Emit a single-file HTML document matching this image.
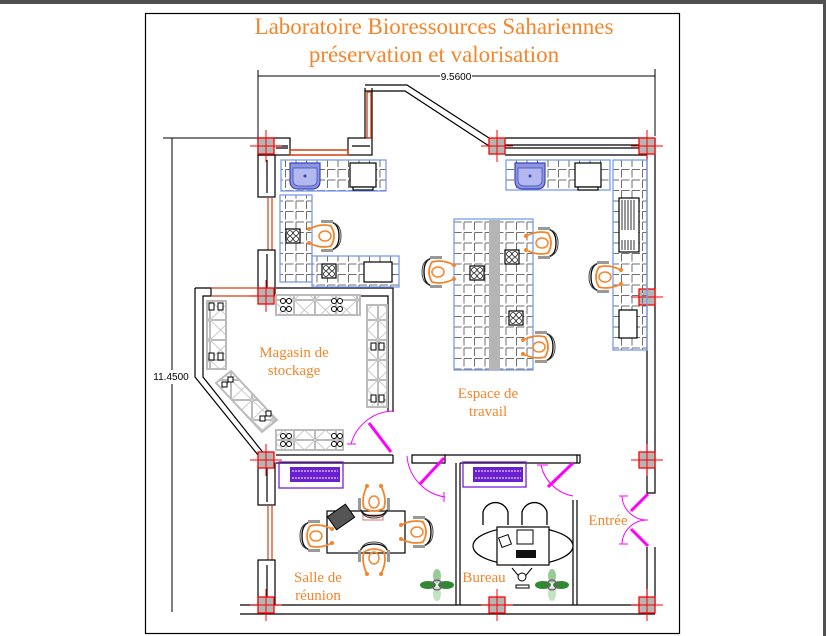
<!DOCTYPE html>
<html><head><meta charset="utf-8"><style>
html,body{margin:0;padding:0;background:#fff}
svg{display:block}
text{font-family:"Liberation Serif",serif;fill:#f5852a}
</style></head><body>
<svg width="826" height="636" viewBox="0 0 826 636" xmlns="http://www.w3.org/2000/svg">
<defs>
<pattern id="g" x="0" y="0" width="10.5" height="10.5" patternUnits="userSpaceOnUse">
<path d="M2 1.5 H10 M2 1.5 V9.5" stroke="#6f6f6f" stroke-width="1" fill="none"/>
</pattern>
<pattern id="sx" width="21" height="20" patternUnits="userSpaceOnUse">
<rect width="21" height="20" fill="#fff" stroke="#bbb" stroke-width="2"/>
<path d="M0 0L21 20M21 0L0 20" stroke="#ccc" stroke-width="1"/>
</pattern>
<g id="col">
<rect x="-8" y="-8" width="16" height="16" fill="#b5b5b5" stroke="#f00" stroke-width="1.3"/>
<path d="M0 -16V16M-16 0H16" stroke="#f00" stroke-width="1"/>
</g>
<g id="burn">
<rect x="-7" y="-7" width="14" height="14" fill="#fff" stroke="#000" stroke-width="1.2"/>
<circle cx="-3" cy="-3" r="2.4" fill="none" stroke="#000" stroke-width=".8"/>
<circle cx="3" cy="-3" r="2.4" fill="none" stroke="#000" stroke-width=".8"/>
<circle cx="-3" cy="3" r="2.4" fill="none" stroke="#000" stroke-width=".8"/>
<circle cx="3" cy="3" r="2.4" fill="none" stroke="#000" stroke-width=".8"/>
</g>
<g id="ch">
<path d="M8 -14 Q16 -12 16 0 Q16 12 8 14" fill="none" stroke="#000" stroke-width="1.3"/>
<path d="M11 -13 Q18 -10 18 0 Q18 10 11 13" fill="none" stroke="#444" stroke-width="1"/>
<rect x="-2" y="-16" width="12" height="3" fill="#999"/>
<rect x="-2" y="13" width="12" height="3" fill="#999"/>
<path d="M-14 -7 Q-2 -13 8 -10 Q14 0 8 10 Q-2 13 -14 7" fill="none" stroke="#f5852a" stroke-width="1.8"/>
<ellipse cx="2" cy="0" rx="6" ry="5" fill="none" stroke="#f5852a" stroke-width="1.5"/>
<circle cx="-14" cy="-7" r="2" fill="#f5852a"/><circle cx="-14" cy="7" r="2" fill="#f5852a"/>
</g>
<g id="sink">
<path d="M0 0H30V18Q30 26 22 26H8Q0 26 0 18Z" fill="#8d95e0" stroke="#3a46b8" stroke-width="1.2"/>
<path d="M3 5H27V17Q27 23 20 23H10Q3 23 3 17Z" fill="#b3b9ef" stroke="#3a46b8" stroke-width=".7"/>
<circle cx="15" cy="13" r="1.5" fill="#3a46b8"/>
</g>
<g id="plant">
<ellipse cx="-9" cy="0" rx="8" ry="4" fill="#2f8a2f"/>
<ellipse cx="9" cy="0" rx="8" ry="4" fill="#2f8a2f"/>
<ellipse cx="0" cy="-9" rx="4" ry="7" fill="#6ab86a" opacity=".7"/>
<ellipse cx="0" cy="9" rx="4" ry="7" fill="#9ad09a" opacity=".6"/>
<circle cx="0" cy="0" r="5" fill="none" stroke="#805080" stroke-width="1.3"/>
</g>
</defs>

<rect x="0" y="0" width="826" height="4" fill="#505050"/>
<rect x="823" y="0" width="3" height="636" fill="#505050"/>
<rect x="145.5" y="13.5" width="534" height="620" fill="none" stroke="#000" stroke-width="1.2"/>

<text x="434" y="34" font-size="23" text-anchor="middle">Laboratoire Bioressources Sahariennes</text>
<text x="434" y="62" font-size="23" text-anchor="middle">préservation et valorisation</text>

<g stroke="#000" stroke-width="1" fill="none">
<path d="M258 70V138M655 69V136M258 76H440M472 76H655"/>
<path d="M163 138H258M172 138V370M172 384V612"/>
</g>
<text x="456" y="80" font-size="10" text-anchor="middle" style="font-family:'Liberation Sans',sans-serif;fill:#000">9.5600</text>
<text x="171" y="380" font-size="10" text-anchor="middle" style="font-family:'Liberation Sans',sans-serif;fill:#000">11.4500</text>

<g stroke="#000" stroke-width="1.2" fill="none">
<rect x="258" y="138" width="32" height="17"/>
<path d="M276 146H288M276 148H288"/>
<rect x="348" y="138" width="24" height="17"/>
<path d="M352 146H370"/>
<path d="M365 138V108M372 138V88M365 108V88M365 85H407L489 138M365 91H405L489 146"/>
<path d="M505 138H647M505 155H647M505 145H640M505 148H640"/>
<rect x="258" y="155" width="17" height="42"/><path d="M267 160V193"/>
<path d="M268 197V250M272 197V250" stroke="#d04010"/>
<rect x="258" y="250" width="17" height="45"/><path d="M267 254V292"/>
<rect x="258" y="463" width="17" height="42"/><path d="M267 466V502"/>
<path d="M268 505V560M272 505V560" stroke="#d04010"/>
<rect x="258" y="560" width="17" height="45"/><path d="M267 565V600"/>
<path d="M195 288H211V296H203V377L265 455M195 288V377L258 455"/>
<path d="M211 288H258M211 296H258" stroke="#d04010"/>
<path d="M276 288H393V412M276 296H388V412"/>
<path d="M276 455H393M276 463H393V455"/>
<path d="M412 455H445V463H412Z"/>
<path d="M445 455H580V463M460 463H580M577 463V455H580V463"/>
<path d="M456 463V605M460 463V605"/>
<path d="M573 500V605M577 500V605"/>
<path d="M647 155V493H655V138M647 547V605H655V547M655 493V290"/>
<path d="M240 605H655M240 614H655"/>
</g>
<rect x="290" y="150" width="58" height="5" fill="none" stroke="#d04010" stroke-width="1.5"/>
<rect x="367" y="92" width="4" height="46" fill="none" stroke="#d04010" stroke-width="1.3"/>

<use href="#col" x="266" y="146"/><use href="#col" x="497" y="146"/><use href="#col" x="647" y="146"/>
<use href="#col" x="266" y="296"/><use href="#col" x="647" y="297"/>
<use href="#col" x="266" y="460"/><use href="#col" x="647" y="460"/>
<use href="#col" x="266" y="605"/><use href="#col" x="497" y="605"/><use href="#col" x="647" y="605"/>

<g stroke="#7a9cf0" stroke-width="1.3" fill="url(#g)">
<rect x="281" y="160" width="105" height="31"/>
<rect x="280" y="195" width="32" height="87"/>
<rect x="312" y="256" width="87" height="31"/>
<rect x="454" y="219" width="79" height="151"/>
<rect x="506" y="160" width="104" height="30"/>
<rect x="613" y="160" width="34" height="190"/>
</g>
<rect x="489" y="220" width="11" height="150" fill="#b5b5b5"/>
<use href="#sink" x="290" y="163"/><use href="#sink" x="515" y="163"/>
<g fill="#fff" stroke="#000" stroke-width="1.2">
<rect x="350" y="163" width="26" height="24"/><rect x="353" y="187" width="20" height="3"/>
<rect x="575" y="163" width="26" height="24"/><rect x="578" y="187" width="20" height="3"/>
<rect x="364" y="262" width="28" height="20"/>
<rect x="619" y="198" width="20" height="54"/>
<rect x="619" y="310" width="18" height="28"/>
</g>
<path d="M622 200V230M625 200V230M628 200V230M631 200V230M634 200V230M622 240V250M625 240V250M628 240V250M631 240V250M634 240V250" stroke="#000" stroke-width=".8"/>
<use href="#burn" x="293" y="236"/><use href="#burn" x="329" y="271"/>
<use href="#burn" x="477" y="273"/><use href="#burn" x="512" y="257"/><use href="#burn" x="516" y="318"/>
<use href="#ch" transform="translate(323,236)"/>
<use href="#ch" transform="translate(540,243)"/>
<use href="#ch" transform="translate(537,347)"/>
<use href="#ch" transform="translate(440,272) rotate(180)"/>
<use href="#ch" transform="translate(607,277) rotate(180)"/>

<g stroke="#bbb" stroke-width="2" fill="url(#sx)">
<rect x="276" y="295" width="84" height="20"/>
<rect x="367" y="305" width="20" height="102"/>
<rect x="207" y="301" width="19" height="68"/>
<rect x="276" y="430" width="67" height="20"/>
<polygon points="216,383 231,371 277,420 262,432"/>
</g>
<g fill="#fff" stroke="#000" stroke-width="1">
<circle cx="283" cy="301" r="2.5"/><circle cx="289" cy="301" r="2.5"/><circle cx="283" cy="309" r="2.5"/><circle cx="289" cy="309" r="2.5"/>
<circle cx="334" cy="301" r="2.5"/><circle cx="340" cy="301" r="2.5"/><circle cx="334" cy="309" r="2.5"/><circle cx="340" cy="309" r="2.5"/>
<circle cx="283" cy="436" r="2.5"/><circle cx="289" cy="436" r="2.5"/><circle cx="283" cy="444" r="2.5"/><circle cx="289" cy="444" r="2.5"/>
<circle cx="334" cy="436" r="2.5"/><circle cx="340" cy="436" r="2.5"/><circle cx="334" cy="444" r="2.5"/><circle cx="340" cy="444" r="2.5"/>
<rect x="209" y="303" width="5" height="7"/><rect x="218" y="303" width="5" height="7"/>
<rect x="209" y="353" width="5" height="7"/><rect x="218" y="353" width="5" height="7"/>
<rect x="371" y="343" width="5" height="7"/><rect x="379" y="343" width="5" height="7"/>
<rect x="371" y="395" width="5" height="7"/><rect x="379" y="395" width="5" height="7"/>
<rect x="222" y="382" width="5" height="5"/><rect x="228" y="377" width="5" height="5"/>
<rect x="260" y="416" width="5" height="5"/><rect x="266" y="411" width="5" height="5"/>
</g>

<g stroke="#f0f" fill="none" stroke-width="1">
<path d="M351 444A45 45 0 0 1 393 411"/><path d="M347 444H356"/>
<path d="M369 423L391 452" stroke-width="3"/>
<path d="M407 456A45 45 0 0 0 445 497"/><path d="M444 492V502"/>
<path d="M420 484L444 458" stroke-width="3"/>
<path d="M541 465A40 40 0 0 0 573 496"/><path d="M537 465H548"/>
<path d="M548 487L573 463" stroke-width="3"/>
<path d="M622 496A25 25 0 0 0 648 520A25 25 0 0 0 622 544"/><path d="M619 496H628M619 544H628"/>
<path d="M631 511L648 494M631 529L648 546" stroke-width="3"/>
</g>

<rect x="279" y="462" width="64" height="26" fill="none" stroke="#7a1fd6" stroke-width="1.3"/>
<rect x="290" y="467" width="50" height="15" fill="#6a1fd0"/>
<path d="M292 471H338M292 478H338" stroke="#fff" stroke-width="1" stroke-dasharray="2 1"/>
<rect x="463" y="462" width="63" height="25" fill="none" stroke="#7a1fd6" stroke-width="1.3"/>
<rect x="473" y="467" width="50" height="15" fill="#6a1fd0"/>
<path d="M475 471H521M475 478H521" stroke="#fff" stroke-width="1" stroke-dasharray="2 1"/>
<rect x="327" y="511" width="78" height="42" fill="#fff" stroke="#000" stroke-width="1.2"/>
<rect x="330" y="509" width="22" height="16" fill="#555" stroke="#000" transform="rotate(-35 341 517)"/>
<rect x="363" y="515" width="20" height="5" fill="none" stroke="#e07060"/>
<use href="#ch" transform="translate(374,500) rotate(90)"/>
<use href="#ch" transform="translate(318,536) rotate(180)"/>
<use href="#ch" transform="translate(415,532)"/>
<use href="#ch" transform="translate(374,560) rotate(-90)"/>
<path d="M483 525V512A13 13 0 0 1 508 512V525M522 525V512A13 13 0 0 1 547 512V525" fill="none" stroke="#000" stroke-width="1.3"/>
<ellipse cx="523" cy="546" rx="50" ry="19" fill="#fff" stroke="#000" stroke-width="1.2"/>
<rect x="497" y="527" width="52" height="38" fill="#fff" stroke="#000" stroke-width="1.2"/>
<rect x="517" y="530" width="16" height="14" fill="#fff" stroke="#000"/>
<rect x="516" y="550" width="20" height="8" fill="#111"/>
<rect x="500" y="536" width="10" height="10" fill="#fff" stroke="#000" transform="rotate(-20 505 541)"/>
<path d="M512 568L522 580L532 568" stroke="#000" fill="none"/>
<circle cx="522" cy="577" r="4" fill="#fff" stroke="#000"/>
<rect x="516" y="585" width="13" height="3" fill="#fff" stroke="#000"/>
<use href="#plant" x="437" y="585"/><use href="#plant" x="552" y="585"/>

<text x="294" y="357" font-size="15" text-anchor="middle">Magasin de</text>
<text x="294" y="375" font-size="15" text-anchor="middle">stockage</text>
<text x="488" y="398" font-size="15" text-anchor="middle">Espace de</text>
<text x="488" y="416" font-size="15" text-anchor="middle">travail</text>
<text x="318" y="582" font-size="15" text-anchor="middle">Salle de</text>
<text x="318" y="600" font-size="15" text-anchor="middle">réunion</text>
<text x="484" y="582" font-size="15" text-anchor="middle">Bureau</text>
<text x="608" y="525" font-size="15" text-anchor="middle">Entrée</text>
</svg>
</body></html>
